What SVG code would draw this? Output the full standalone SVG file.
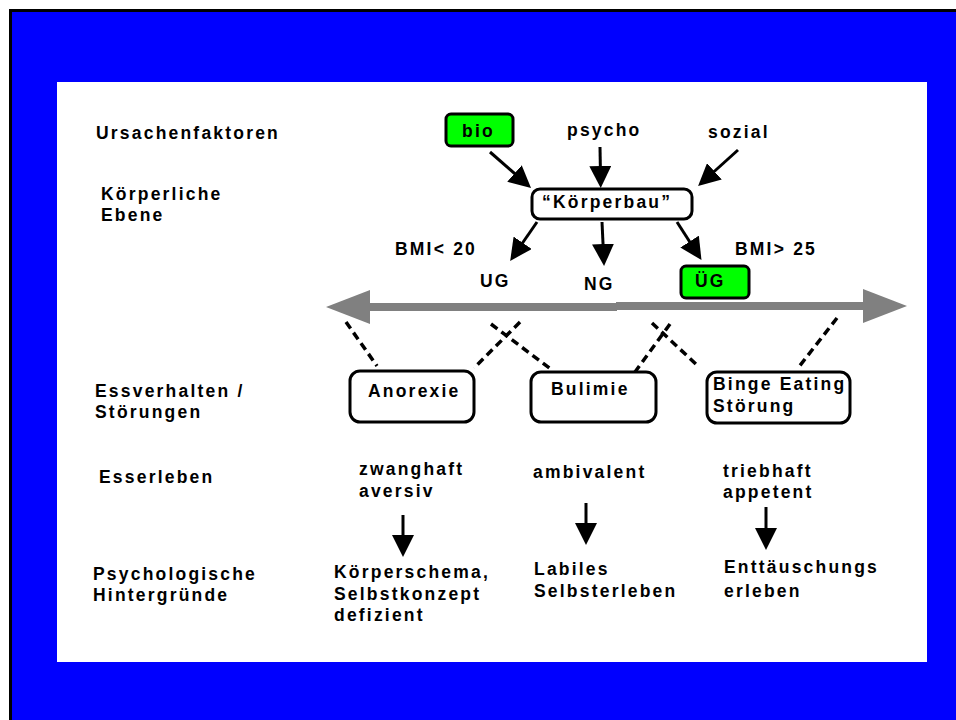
<svg xmlns="http://www.w3.org/2000/svg" width="956" height="720" viewBox="0 0 956 720">
<defs>
<style>
text{font-family:"Liberation Sans",Arial,sans-serif;font-weight:bold;font-size:17.5px;letter-spacing:2.2px;fill:#000}
.box{fill:#fff;stroke:#000;stroke-width:3}
.green{fill:#00ff00;stroke:#000;stroke-width:3}
.arr{stroke:#000;stroke-width:3;fill:none;marker-end:url(#ah)}
.dash{stroke:#000;stroke-width:3.5;stroke-dasharray:8 5;fill:none}
.gray{stroke:#808080;stroke-width:8;fill:none;marker-end:url(#gh)}
</style>
<marker id="ah" markerUnits="userSpaceOnUse" markerWidth="24" markerHeight="22" refX="10" refY="11" orient="auto">
<path d="M0,0 L22,11 L0,22 Z" fill="#000"/>
</marker>
<marker id="gh" markerUnits="userSpaceOnUse" markerWidth="44" markerHeight="34" refX="30" refY="17" orient="auto">
<path d="M0,0 L44,17 L0,34 Z" fill="#808080"/>
</marker>
</defs>
<rect x="0" y="0" width="956" height="720" fill="#fff"/>
<rect x="10.5" y="10.5" width="960" height="720" fill="#0000ff" stroke="#000" stroke-width="3"/>
<rect x="57" y="82" width="870" height="580" fill="#fff"/>

<g id="labels-left">
<text x="96" y="139">Ursachenfaktoren</text>
<text x="101" y="200">Körperliche</text>
<text x="101" y="221">Ebene</text>
<text x="95" y="397">Essverhalten /</text>
<text x="95" y="418">Störungen</text>
<text x="99" y="483">Esserleben</text>
<text x="93" y="580">Psychologische</text>
<text x="93" y="601">Hintergründe</text>
</g>

<g id="connectors">
<line class="arr" x1="490" y1="152" x2="522" y2="180"/>
<line class="arr" x1="600" y1="147" x2="600.5" y2="176"/>
<line class="arr" x1="738" y1="150" x2="707" y2="178"/>
<line class="arr" x1="537" y1="222" x2="517" y2="251"/>
<line class="arr" x1="602" y1="222" x2="603.5" y2="254"/>
<line class="arr" x1="677" y1="222" x2="695" y2="250"/>
<line class="gray" x1="617" y1="307" x2="340" y2="307"/>
<line class="gray" x1="616" y1="306" x2="893" y2="306"/>
<line class="dash" x1="346" y1="322" x2="377" y2="366"/>
<line class="dash" x1="520" y1="322" x2="474" y2="368"/>
<line class="dash" x1="491" y1="324" x2="552" y2="370"/>
<line class="dash" x1="670" y1="324" x2="635" y2="372"/>
<line class="dash" x1="652" y1="323" x2="698" y2="366"/>
<line class="dash" x1="837" y1="318" x2="798" y2="368"/>
<line class="arr" x1="403" y1="515" x2="403" y2="545"/>
<line class="arr" x1="586" y1="503" x2="586" y2="533"/>
<line class="arr" x1="766" y1="507" x2="766" y2="538"/>
</g>

<g id="bio"><rect class="green" x="446" y="114" width="67" height="32" rx="5"/><text x="462" y="137">bio</text></g>
<g id="psycho"><text x="567" y="136">psycho</text></g>
<g id="sozial"><text x="708" y="138">sozial</text></g>
<g id="koerperbau"><rect class="box" x="532" y="189" width="160" height="30" rx="8"/><text x="542" y="208">“Körperbau”</text></g>
<g id="bmi20"><text x="395" y="255">BMI&lt; 20</text></g>
<g id="bmi25"><text x="735" y="255">BMI&gt; 25</text></g>
<g id="ug"><text x="480" y="287">UG</text></g>
<g id="ng"><text x="584" y="290">NG</text></g>
<g id="uebg"><rect class="green" x="681" y="266" width="68" height="32" rx="5"/><text x="695" y="287">ÜG</text></g>
<g id="anorexie"><rect class="box" x="350" y="371" width="124" height="51" rx="10"/><text x="368" y="397">Anorexie</text></g>
<g id="bulimie"><rect class="box" x="531" y="372" width="125" height="50" rx="10"/><text x="551" y="395">Bulimie</text></g>
<g id="binge"><rect class="box" x="707" y="372" width="143" height="51" rx="10"/><text x="713" y="390">Binge Eating</text><text x="713" y="412">Störung</text></g>
<g id="zwanghaft"><text x="359" y="475">zwanghaft</text><text x="359" y="497">aversiv</text></g>
<g id="ambivalent"><text x="533" y="478">ambivalent</text></g>
<g id="triebhaft"><text x="723" y="477">triebhaft</text><text x="723" y="498">appetent</text></g>
<g id="koerperschema"><text x="334" y="578">Körperschema,</text><text x="334" y="600">Selbstkonzept</text><text x="334" y="621">defizient</text></g>
<g id="labiles"><text x="534" y="575">Labiles</text><text x="534" y="597">Selbsterleben</text></g>
<g id="enttaeuschung"><text x="724" y="573">Enttäuschungs</text><text x="724" y="597">erleben</text></g>
</svg>
